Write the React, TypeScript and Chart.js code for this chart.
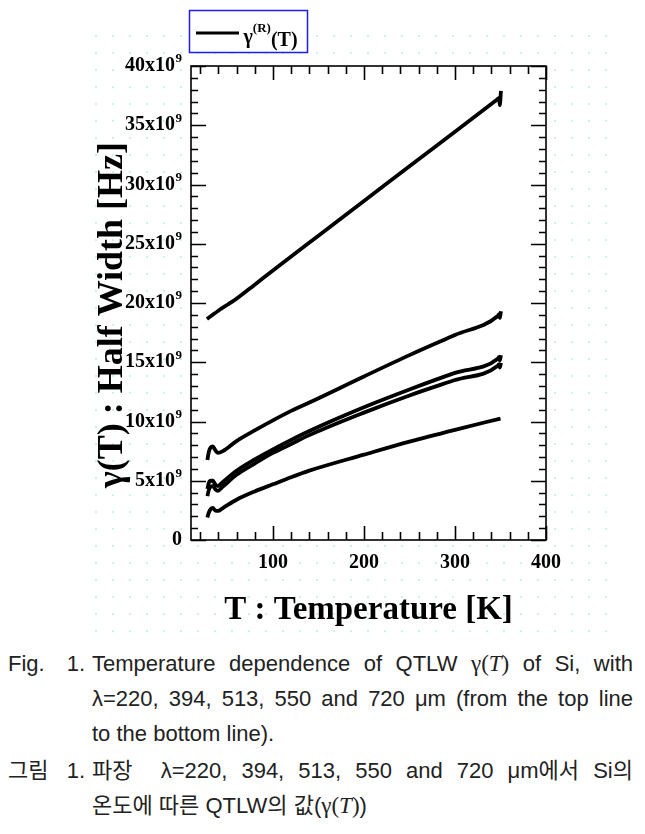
import React, { useEffect, useRef } from 'react';
import { Chart, registerables } from 'chart.js';

Chart.register(...registerables);

// ---- data (γ in units of 10^9 Hz, T in K) ----
const T_220 = [27.5, 32, 40, 50, 58, 80, 100, 150, 200, 250, 300, 346, 348.5, 349.2, 350.5];
const G_220 = [18.65, 18.9, 19.35, 19.85, 20.25, 21.55, 22.75, 25.68, 28.6, 31.55, 34.45, 37.15, 37.3, 36.7, 37.9];

const T_394 = [28, 29.5, 31.5, 34, 36.5, 39.5, 45, 60, 80, 100, 120, 140, 200, 250, 300, 347, 348.5, 349.3, 350.5];
const G_394 = [6.75, 7.4, 7.8, 7.9, 7.6, 7.35, 7.5, 8.35, 9.25, 10.1, 10.9, 11.6, 13.8, 15.6, 17.3, 18.9, 19.05, 18.75, 19.3];

const T_513 = [28, 29.5, 31.5, 34, 36.5, 39.5, 45, 60, 80, 100, 120, 140, 200, 250, 300, 347, 348.5, 349.3, 350.5];
const G_513 = [4.3, 4.8, 5.0, 5.0, 4.7, 4.55, 4.9, 5.85, 6.8, 7.65, 8.45, 9.2, 11.2, 12.7, 14.1, 15.3, 15.45, 15.15, 15.6];

const T_550 = [28, 29.5, 31.5, 34, 36.5, 39.5, 45, 60, 80, 100, 120, 140, 200, 250, 300, 347, 348.5, 349.3, 350.5];
const G_550 = [3.7, 4.2, 4.5, 4.55, 4.3, 4.15, 4.5, 5.5, 6.45, 7.35, 8.1, 8.85, 10.75, 12.2, 13.5, 14.7, 14.85, 14.55, 14.95];

const T_720 = [28, 29.5, 31.5, 34, 36.5, 39.5, 45, 60, 80, 100, 120, 140, 200, 250, 300, 350];
const G_720 = [1.9, 2.3, 2.6, 2.7, 2.5, 2.45, 2.7, 3.4, 4.1, 4.7, 5.3, 5.85, 7.2, 8.3, 9.3, 10.25];

const SERIES = [
  { name: '220', t: T_220, g: G_220 },
  { name: '394', t: T_394, g: G_394 },
  { name: '513', t: T_513, g: G_513 },
  { name: '550', t: T_550, g: G_550 },
  { name: '720', t: T_720, g: G_720 },
];

const X_MIN = 10;
const X_MAX = 400;
const X_LABELS = [100, 200, 300, 400];
const X_MAJOR = 100;
const X_MINOR = 20;
const Y_MIN = 0;
const Y_MAX = 40;
const Y_LABELS = [0, 5, 10, 15, 20, 25, 30, 35, 40];
const Y_MAJOR = 5;
const Y_MINOR = 1;
const Y_EXP = '9';

const X_TITLE = 'T : Temperature [K]';
const Y_TITLE = 'γ(T) : Half Width [Hz]';
const LEGEND_BASE = 'γ';
const LEGEND_SUP = '(R)';
const LEGEND_TAIL = '(T)';

const SERIF = '"Liberation Serif", "Times New Roman", serif';

const axesPlugin = {
  id: 'paperAxes',
  beforeDraw(chart: any) {
    const { ctx, chartArea: a } = chart;
    ctx.save();
    ctx.fillStyle = '#c9f3f3';
    for (let px = 87; px < 600; px += 17) {
      for (let py = 27; py < 624; py += 17) {
        ctx.fillRect(px, py, 2, 2);
      }
    }
    ctx.fillStyle = '#ffffff';
    ctx.fillRect(a.left, a.top, a.right - a.left, a.bottom - a.top);
    ctx.fillRect(a.left - 1.5, 2.5, 118, 42);
    ctx.restore();
  },
  afterDraw(chart: any) {
    const { ctx, chartArea: a } = chart;
    const xs = chart.scales.x;
    const ys = chart.scales.y;
    ctx.save();
    ctx.strokeStyle = '#000';
    ctx.lineWidth = 1.6;
    ctx.lineCap = 'butt';
    ctx.strokeRect(a.left, a.top, a.right - a.left, a.bottom - a.top);
    ctx.beginPath();
    for (let v = X_MINOR; v <= X_MAX; v += X_MINOR) {
      const px = Math.round(xs.getPixelForValue(v)) + 0.5;
      const len = v % X_MAJOR === 0 ? 14 : 8;
      ctx.moveTo(px, a.bottom);
      ctx.lineTo(px, a.bottom - len);
      ctx.moveTo(px, a.top);
      ctx.lineTo(px, a.top + len);
    }
    for (let v = Y_MIN; v <= Y_MAX; v += Y_MINOR) {
      const py = Math.round(ys.getPixelForValue(v)) + 0.5;
      const len = v % Y_MAJOR === 0 ? 15 : 7;
      ctx.moveTo(a.left, py);
      ctx.lineTo(a.left + len, py);
      ctx.moveTo(a.right, py);
      ctx.lineTo(a.right - len, py);
    }
    ctx.stroke();

    // tick labels
    ctx.fillStyle = '#000';
    const baseFont = `bold 20px ${SERIF}`;
    const supFont = `bold 13px ${SERIF}`;
    ctx.textBaseline = 'middle';
    X_LABELS.forEach((v) => {
      ctx.font = baseFont;
      ctx.textAlign = 'center';
      ctx.fillText(String(v), xs.getPixelForValue(v), a.bottom + 23);
    });
    Y_LABELS.forEach((v) => {
      const py = ys.getPixelForValue(v);
      const rx = a.left - 9;
      ctx.textAlign = 'right';
      if (v === 0) {
        ctx.font = baseFont;
        ctx.fillText('0', rx, py);
        return;
      }
      ctx.font = supFont;
      const sw = ctx.measureText(Y_EXP).width;
      ctx.fillText(Y_EXP, rx, py - 7);
      ctx.font = baseFont;
      ctx.fillText(`${v}x10`, rx - sw - 0.5, py);
    });

    // axis titles
    ctx.font = `bold 33px ${SERIF}`;
    ctx.textAlign = 'center';
    ctx.fillText(X_TITLE, (a.left + a.right) / 2, a.bottom + 70);
    ctx.save();
    ctx.translate(105, (a.top + a.bottom) / 2 + 12);
    ctx.rotate(-Math.PI / 2);
    ctx.font = `bold 36px ${SERIF}`;
    ctx.fillText(Y_TITLE, 0, 0);
    ctx.restore();

    // legend
    const lx = a.left - 1.5;
    ctx.strokeStyle = '#1c1cf0';
    ctx.lineWidth = 1.5;
    ctx.strokeRect(lx, 2.5, 118, 42);
    ctx.strokeStyle = '#000';
    ctx.lineWidth = 3;
    ctx.beginPath();
    ctx.moveTo(lx + 6.5, 25);
    ctx.lineTo(lx + 49.5, 25);
    ctx.stroke();
    ctx.textAlign = 'left';
    ctx.textBaseline = 'alphabetic';
    let cx = lx + 54;
    ctx.font = `bold 20px ${SERIF}`;
    ctx.fillText(LEGEND_BASE, cx, 35);
    cx += ctx.measureText(LEGEND_BASE).width;
    ctx.font = `bold 13px ${SERIF}`;
    ctx.fillText(LEGEND_SUP, cx, 24);
    cx += ctx.measureText(LEGEND_SUP).width;
    ctx.font = `bold 20px ${SERIF}`;
    ctx.fillText(LEGEND_TAIL, cx, 38);
    ctx.restore();
  },
};

function ChartView() {
  const ref = useRef<HTMLCanvasElement | null>(null);
  useEffect(() => {
    if (!ref.current) return;
    const chart = new Chart(ref.current, {
      type: 'line',
      data: {
        datasets: SERIES.map((s) => ({
          label: s.name,
          data: s.t.map((t, i) => ({ x: t, y: s.g[i] })),
          borderColor: '#000',
          borderWidth: 3.8,
          pointRadius: 0,
          cubicInterpolationMode: 'monotone' as const,
          fill: false,
        })),
      },
      options: {
        responsive: false,
        maintainAspectRatio: false,
        animation: false,
        events: [],
        layout: { padding: { left: 0, top: 58, right: 91, bottom: 0 } },
        plugins: { legend: { display: false }, tooltip: { enabled: false }, title: { display: false } },
        scales: {
          x: {
            type: 'linear',
            min: X_MIN,
            max: X_MAX,
            ticks: { display: false },
            grid: { display: false },
            border: { display: false },
            afterFit: (s: any) => { s.height = 106; },
          },
          y: {
            type: 'linear',
            min: Y_MIN,
            max: Y_MAX,
            ticks: { display: false },
            grid: { display: false },
            border: { display: false },
            afterFit: (s: any) => { s.width = 183; },
          },
        },
      },
      plugins: [axesPlugin],
    });
    return () => chart.destroy();
  }, []);
  return <canvas ref={ref} width={629} height={638} style={{ display: 'block' }} />;
}

const capFont = '"Liberation Sans", "Noto Sans CJK KR", Arial, sans-serif';

function MathG() {
  return (
    <span style={{ fontFamily: SERIF, fontSize: 23 }}>
      γ(<i>T</i>)
    </span>
  );
}

function Line({ label, children, justify }: { label?: [string, string]; children: React.ReactNode; justify: boolean }) {
  return (
    <div style={{ display: 'flex', height: 35, lineHeight: '35px' }}>
      <div style={{ width: 77, paddingRight: 7, display: 'flex', justifyContent: 'space-between' }}>
        {label ? (
          <>
            <span>{label[0]}</span>
            <span>{label[1]}</span>
          </>
        ) : null}
      </div>
      <div
        style={{
          width: 541,
          textAlign: justify ? 'justify' : 'left',
          textAlignLast: justify ? 'justify' : 'left',
          whiteSpace: 'nowrap',
        }}
      >
        {children}
      </div>
    </div>
  );
}

export default function App() {
  return (
    <div style={{ width: 629, background: '#fff' }}>
      <ChartView />
      <div style={{ fontFamily: capFont, fontSize: 22, color: '#222', width: 625 }}>
        <Line label={['Fig.', '1.']} justify>
          Temperature dependence of QTLW <MathG /> of Si, with
        </Line>
        <Line justify>λ=220, 394, 513, 550 and 720 μm (from the top line</Line>
        <Line justify={false}>to the bottom line).</Line>
        <div style={{ height: 2 }} />
        <Line label={['그림', '1.']} justify>
          파장&nbsp; λ=220, 394, 513, 550 and 720 μm에서 Si의
        </Line>
        <Line justify={false}>
          온도에 따른 QTLW의 값(<MathG />)
        </Line>
      </div>
    </div>
  );
}
